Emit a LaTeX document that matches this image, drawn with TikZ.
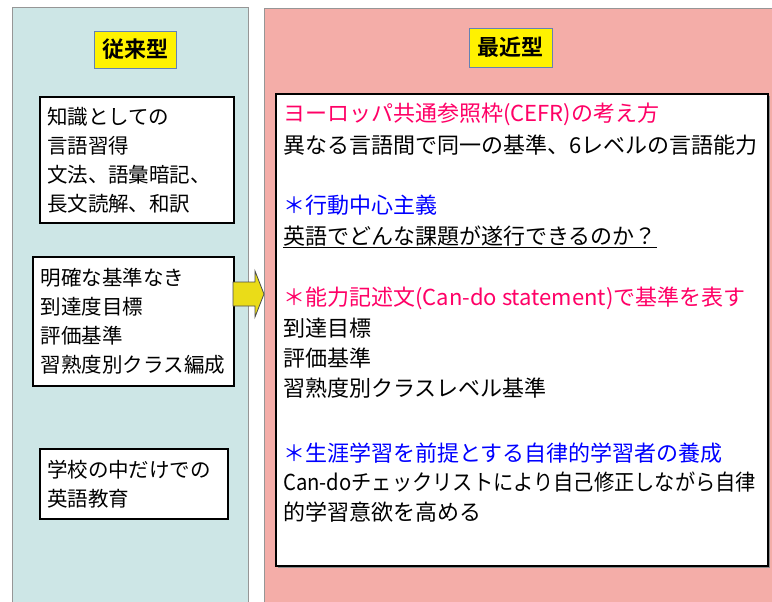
\documentclass[tikz,border=0pt]{standalone}
\usepackage{fontspec}
\setmainfont{Noto Sans CJK JP}[BoldFont={Noto Sans CJK JP Bold}]
\definecolor{leftbg}{RGB}{205,230,230}
\definecolor{rightbg}{RGB}{244,173,168}
\definecolor{panelline}{RGB}{150,150,150}
\definecolor{titleline}{RGB}{100,130,180}
\definecolor{arrowyellow}{RGB}{234,220,24}
\definecolor{pinktext}{RGB}{255,0,102}
\definecolor{bluetext}{RGB}{0,0,255}
\tikzset{
  panel/.style={draw=panelline, line width=0.8pt},
  titlebox/.style={draw=titleline, fill=yellow, line width=0.8pt, inner sep=0pt,
    font=\fontsize{22}{26}\selectfont\bfseries},
  leftbox/.style={draw=black, fill=white, line width=1.3pt, align=left,
    font=\fontsize{20.5}{29}\selectfont, inner ysep=0pt},
  rline/.style={anchor=west, inner sep=0pt, font=\fontsize{22}{26}\selectfont},
  blockarrow/.style={draw=black!70, fill=arrowyellow, line width=0.8pt},
}
\begin{document}
\begin{tikzpicture}[x=1pt, y=-1pt]
\useasboundingbox (0,0) rectangle (772,602);
\fill[white] (0,0) rectangle (772,602);
% panels
\filldraw[panel, fill=leftbg] (12,7) rectangle (248,610);
\filldraw[panel, fill=rightbg] (264,8) rectangle (780,610);
% titles
\node[titlebox, minimum width=82, minimum height=37] (t1) at (135,49.5) {従来型};
\node[titlebox, minimum width=83, minimum height=39] (t2) at (510.5,47.5) {最近型};
% left boxes
\node[leftbox, minimum width=194, minimum height=126, inner xsep=7pt, text width=180pt] (b1) at (137,160)
  {知識としての\\言語習得\\文法、語彙暗記、\\長文読解、和訳};
\node[leftbox, minimum width=201, minimum height=129, inner xsep=8pt, text width=185pt] (b2) at (133.5,321.5)
  {明確な基準なき\\到達度目標\\評価基準\\習熟度別クラス編成};
\node[leftbox, minimum width=188, minimum height=70, inner xsep=7pt, text width=174pt] (b3) at (134,484)
  {学校の中だけでの\\英語教育};
% right box
\fill[black!45] (278,96) rectangle (770,568);
\node[draw=black, fill=white, line width=1.3pt, minimum width=492, minimum height=472, inner sep=0pt] (rbox) at (522,330) {};
% arrow
\filldraw[blockarrow] (233,282) -- (255,282) -- (255,271) -- (264,294) -- (255,317) -- (255,306) -- (233,306) -- cycle;
% right text
\node[rline, text=pinktext] (r1) at (283,114) {ヨーロッパ共通参照枠(CEFR)の考え方};
\node[rline] (r2) at (283,145) {異なる言語間で同一の基準、6レベルの言語能力};
\node[rline, text=bluetext] (r3) at (283,205) {＊行動中心主義};
\node[rline] (r4) at (283,236) {英語でどんな課題が遂行できるのか？};
\draw[line width=1pt] ([yshift=-1.5pt]r4.south west) -- ([yshift=-1.5pt]r4.south east);
\node[rline, text=pinktext] (r5) at (283,298) {＊能力記述文(Can-do statement)で基準を表す};
\node[rline] (r6) at (283,328) {到達目標};
\node[rline] (r7) at (283,358) {評価基準};
\node[rline] (r8) at (283,388) {習熟度別クラスレベル基準};
\node[rline, text=bluetext] (r9) at (283,453) {＊生涯学習を前提とする自律的学習者の養成};
\node[rline] (r10) at (283,482) {\scalebox{0.92}[1]{Can-doチェックリストにより自己修正しながら自律}};
\node[rline] (r11) at (283,512) {的学習意欲を高める};
\end{tikzpicture}
\end{document}
